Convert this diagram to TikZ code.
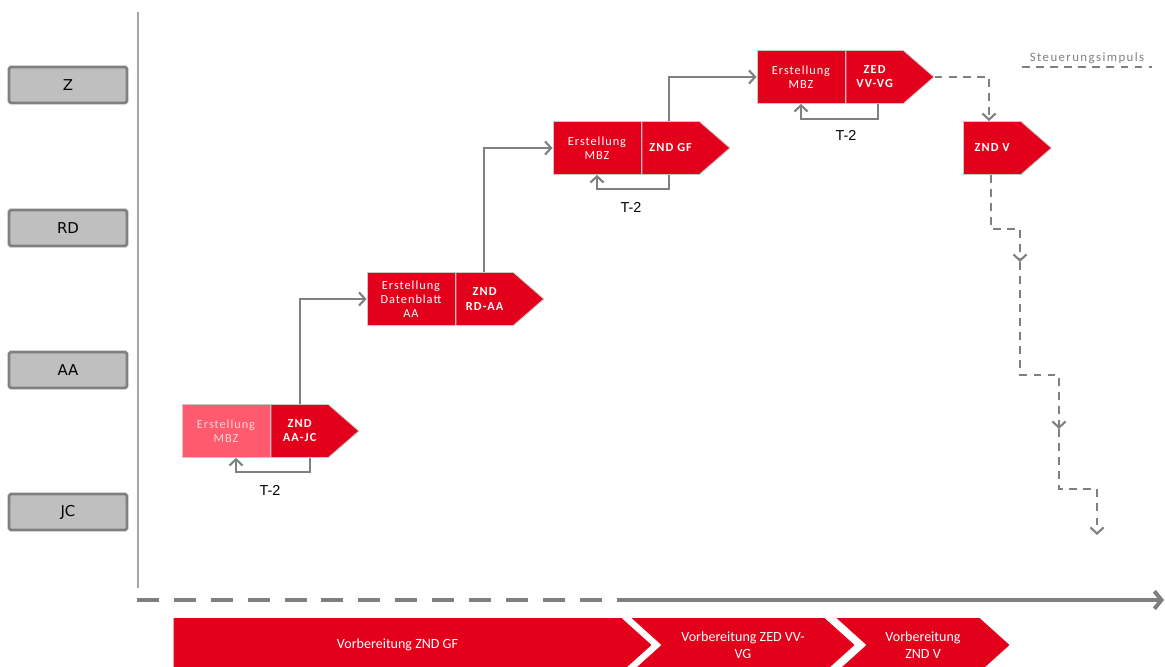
\documentclass[tikz,border=0pt]{standalone}
\usepackage{fontspec}
\setmainfont{Carlito}
\newfontfamily\arialfont{Liberation Sans}
\newfontfamily\lanefont{DejaVu Sans}
\usepackage{xcolor,tikz}
\usetikzlibrary{arrows.meta,positioning,shapes.symbols}
\definecolor{zred}{HTML}{E2001A}
\definecolor{zpink}{HTML}{FF5A6E}
\definecolor{zpale}{HTML}{FFD6DC}
\definecolor{zgray}{HTML}{808080}
\definecolor{axisgray}{HTML}{A6A6A6}
\definecolor{lanegray}{HTML}{BFBFBF}

\begin{document}
\begin{tikzpicture}[x=0.02cm,y=-0.02cm,>={Straight Barb[length=3.5pt,width=7.5pt]},
  lane/.style={draw=zgray,line width=1.6pt,fill=lanegray,rounded corners=1pt,
    minimum width=2.36cm,minimum height=0.72cm,inner sep=0pt,
    font=\lanefont\fontsize{8.5}{10}\selectfont},
  task/.style={draw=black!22,line width=0.5pt,fill=zred,text=white,
    minimum width=1.76cm,minimum height=1.06cm,inner sep=0pt,align=center,
    font=\fontsize{7}{8}\selectfont\addfontfeature{LetterSpace=8}},
  gate/.style={task,shape=signal,signal to=east,signal pointer angle=82,
    font=\bfseries\fontsize{7}{8}\selectfont\addfontfeature{LetterSpace=9}},
  phase/.style={shape=signal,signal to=east,signal pointer angle=84,fill=zred,
    text=white,minimum height=1.08cm,inner sep=0pt,align=center,
    font=\fontsize{8}{9.5}\selectfont},
  flow/.style={draw=zgray,line width=1.2pt,->},
  ctrl/.style={draw=zgray,line width=1.2pt,dash pattern=on 4.5pt off 3.5pt},
  note/.style={font=\arialfont\fontsize{8.2}{10}\selectfont}]
  \fill[white] (0,0) rectangle (1165,666);
  \useasboundingbox (0,0) rectangle (1165,666);

  \foreach \y/\lab in {85/Z,228/RD,370/AA,512/JC}{
    \node[lane] (lane\lab) at (68,\y) {\lab};
  }
  \coordinate (ax0) at (138,12);
  \coordinate (ax1) at (138,588);
  \draw[axisgray,line width=1.1pt] (ax0) -- (ax1);
  \coordinate (t0) at (137,600);
  \coordinate (tm) at (618,600);
  \coordinate (t1) at (1164,600);
  \draw[zgray,line width=2.3pt,dash pattern=on 12.5pt off 8.5pt] (t0) -- (tm);
  \draw[zgray,line width=2.3pt,-{Straight Barb[length=4pt,width=10pt]}] (tm) -- (t1);

  \node[task,fill=zpink,text=zpale] (mbzA) at (226,431) {Erstellung\\MBZ};
  \node[gate,right=0pt of mbzA] (zndA) {ZND\\AA-JC};
  \node[task] (mbzB) at (411,299) {Erstellung\\Datenblatt\\AA};
  \node[gate,right=0pt of mbzB] (zndB) {ZND\\RD-AA};
  \node[task] (mbzC) at (597,148) {Erstellung\\MBZ};
  \node[gate,right=0pt of mbzC] (zndC) {ZND GF};
  \node[task] (mbzD) at (801,77) {Erstellung\\MBZ};
  \node[gate,right=0pt of mbzD] (zndD) {ZED\\VV-VG};
  \node[gate,anchor=west] (zndE) at (963,148) {ZND V};

  \draw[flow] ([xshift=0.6cm]mbzA.north east) |- (mbzB.west);
  \draw[flow] ([xshift=0.58cm]mbzB.north east) |- (mbzC.west);
  \draw[flow] ([xshift=0.56cm]mbzC.north east) |- (mbzD.west);

  \draw[flow] ([xshift=0.8cm]mbzA.south east) -- ++(0,14) -| ([xshift=0.2cm]mbzA.south);
  \draw[flow] ([xshift=0.56cm]mbzC.south east) -- ++(0,14) -| (mbzC.south);
  \draw[flow] ([xshift=0.66cm]mbzD.south east) -- ++(0,15) -| (mbzD.south);
  \node[note] (tA) at (270,490) {T-2};
  \node[note] (tC) at (631,207) {T-2};
  \node[note] (tD) at (846,135) {T-2};

  \draw[ctrl,->] (zndD.east) -| ([xshift=0.52cm]zndE.west |- zndE.north);
  \coordinate (k1) at (1020,229);
  \coordinate (m1) at (1020,262);
  \coordinate (k2) at (1059,375);
  \coordinate (m2) at (1059,429);
  \coordinate (k3) at (1097,489);
  \coordinate (m3) at (1097,535);
  \draw[ctrl,->] ([xshift=0.56cm]zndE.west |- zndE.south) |- (k1) -- (m1);
  \draw[ctrl,->] (m1) |- (k2) -- (m2);
  \draw[ctrl,->] (m2) |- (k3) -- (m3);

  \node[anchor=south,inner xsep=4.2pt,inner ysep=1.5pt,text=zgray,
    font=\fontsize{7.3}{8}\selectfont\addfontfeature{LetterSpace=11}] (legend) at (1087,67) {Steuerungsimpuls};
  \draw[ctrl] (legend.south west) -- (legend.south east);

  \node[phase,anchor=east,minimum width=9.56cm] (prepA) at (652,645) {Vorbereitung ZND GF};
  \node[phase,signal from=west,anchor=east,minimum width=4.46cm] (prepB) at (855,645) {Vorbereitung ZED VV-\\VG};
  \node[phase,signal from=west,anchor=east,minimum width=3.46cm] (prepC) at (1010,645) {Vorbereitung\\ZND V};
\end{tikzpicture}
\end{document}
